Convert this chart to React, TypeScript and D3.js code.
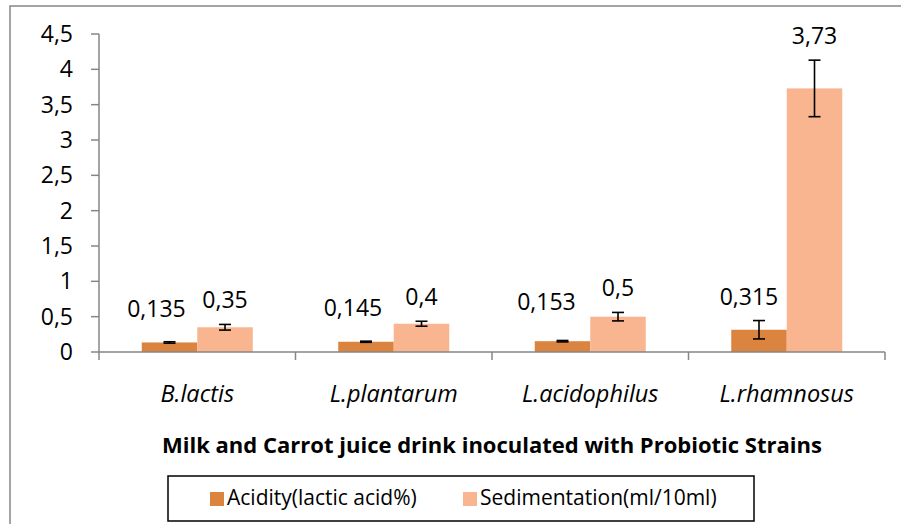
import React from 'react';
import * as d3 from 'd3';

const strains = ['B.lactis', 'L.plantarum', 'L.acidophilus', 'L.rhamnosus'];
const seriesNames = ['Acidity(lactic acid%)', 'Sedimentation(ml/10ml)'];
const acidity = [0.135, 0.145, 0.153, 0.315];
const acidityErr = [0.01, 0.008, 0.01, 0.13];
const sedimentation = [0.35, 0.4, 0.5, 3.73];
const sedimentationErr = [0.04, 0.035, 0.06, 0.4];
const yTicks = [0, 0.5, 1, 1.5, 2, 2.5, 3, 3.5, 4, 4.5];

const colors = ['#DB8440', '#F8B590'];
// acidity labels sit a little left/up so they clear their neighbours
const acidityLabelNudge = [[-13, -9], [-13, -9], [-16, -14], [-10, 0]];

const W = 901;
const H = 524;
const font = '"Open Sans", Lato, sans-serif';

const fmt = (v: number) => String(v).replace('.', ',');

export default function App() {
  const x = d3.scaleBand<string>().domain(strains).range([99, 885]).padding(0);
  const xs = d3.scaleBand<number>().domain([0, 1]).range([0, x.bandwidth()])
    .paddingInner(0).paddingOuter(0.77);
  const y = d3.scaleLinear().domain([0, 4.5]).range([352, 34]);

  const series = [
    { values: acidity, errs: acidityErr },
    { values: sedimentation, errs: sedimentationErr },
  ];

  return (
    <svg width={W} height={H} style={{ position: 'absolute', left: 0, top: 0, background: '#fff' }}>
      <rect x={10} y={6} width={W + 10} height={H + 10} fill="#fff" stroke="#868686" strokeWidth={1.5} />

      {/* bars */}
      {series.map((s, si) =>
        strains.map((c, i) => {
          const bx = (x(c) || 0) + (xs(si) || 0);
          return (
            <rect key={`b${si}-${i}`} x={bx} y={y(s.values[i])} width={xs.bandwidth()}
              height={y(0) - y(s.values[i])} fill={colors[si]} />
          );
        })
      )}

      {/* error bars */}
      {series.map((s, si) =>
        strains.map((c, i) => {
          const cx = (x(c) || 0) + (xs(si) || 0) + xs.bandwidth() / 2;
          const y1 = y(s.values[i] + s.errs[i]);
          const y2 = y(s.values[i] - s.errs[i]);
          return (
            <g key={`e${si}-${i}`} stroke="#000" strokeWidth={1.6}>
              <line x1={cx} x2={cx} y1={y1} y2={y2} />
              <line x1={cx - 6} x2={cx + 6} y1={y1} y2={y1} />
              <line x1={cx - 6} x2={cx + 6} y1={y2} y2={y2} />
            </g>
          );
        })
      )}

      {/* axes */}
      <g stroke="#868686" strokeWidth={1.5}>
        <line x1={99} x2={99} y1={y(4.5)} y2={y(0)} />
        {yTicks.map(t => (
          <line key={`yt${t}`} x1={91} x2={99} y1={y(t)} y2={y(t)} />
        ))}
        <line x1={99} x2={885} y1={y(0)} y2={y(0)} />
        {[...strains.map(c => x(c) || 0), 885].map((tx, i) => (
          <line key={`xt${i}`} x1={tx} x2={tx} y1={y(0)} y2={y(0) + 8} />
        ))}
      </g>

      {yTicks.map(t => (
        <text key={`yl${t}`} x={73} y={y(t) + 8} textAnchor="end" fontFamily={font} fontSize={23} fill="#000">
          {fmt(t)}
        </text>
      ))}

      {strains.map(c => (
        <text key={`xl${c}`} x={(x(c) || 0) + x.bandwidth() / 2} y={402} textAnchor="middle"
          fontFamily={font} fontStyle="italic" fontSize={23.5} fill="#000">
          {c}
        </text>
      ))}

      {/* data labels */}
      {series.map((s, si) =>
        strains.map((c, i) => {
          const cx = (x(c) || 0) + (xs(si) || 0) + xs.bandwidth() / 2;
          const [dx, dy] = si === 0 ? acidityLabelNudge[i] : [0, 0];
          return (
            <text key={`dl${si}-${i}`} x={cx + dx} y={y(s.values[i] + s.errs[i]) - 16 + dy}
              textAnchor="middle" fontFamily={font} fontSize={23} fill="#000">
              {fmt(s.values[i])}
            </text>
          );
        })
      )}

      <text x={492} y={453} textAnchor="middle" fontFamily={font} fontWeight="bold" fontSize={20.5}
        textLength={660} lengthAdjust="spacingAndGlyphs" fill="#000">
        Milk and Carrot juice drink inoculated with Probiotic Strains
      </text>

      {/* legend */}
      <rect x={168} y={476} width={586} height={45} fill="#fff" stroke="#000" strokeWidth={1.5} />
      {seriesNames.map((n, i) => {
        const lx = [210, 463][i];
        return (
          <g key={n}>
            <rect x={lx} y={492} width={14} height={14} fill={colors[i]} />
            <text x={lx + 17} y={505} fontFamily={font} fontSize={21} fill="#000">{n}</text>
          </g>
        );
      })}
    </svg>
  );
}
